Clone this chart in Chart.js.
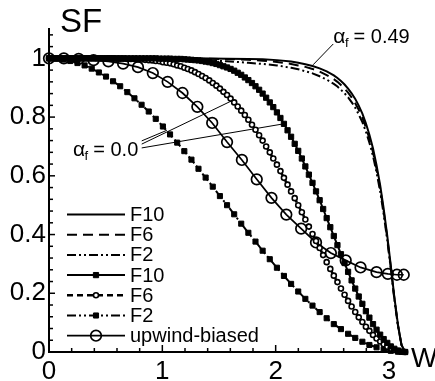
<!DOCTYPE html>
<html><head><meta charset="utf-8">
<script src="https://cdn.jsdelivr.net/npm/chart.js@4/dist/chart.umd.min.js"></script>
<style>html,body{margin:0;padding:0;background:#fff}canvas{display:block}</style>
</head><body>
<canvas id="c" width="435" height="381"></canvas>
<script>
// ---------- DATA ----------
// W grid used by the alpha_f = 0.0 curves F10 and F6
const wFine = [0.000,0.031,0.063,0.094,0.126,0.157,0.188,0.220,0.251,0.283,
0.314,0.346,0.377,0.408,0.440,0.471,0.503,0.534,0.565,0.597,
0.628,0.660,0.691,0.723,0.754,0.785,0.817,0.848,0.880,0.911,
0.942,0.974,1.005,1.037,1.068,1.100,1.131,1.162,1.194,1.225,
1.257,1.288,1.319,1.351,1.382,1.414,1.445,1.477,1.508,1.539,
1.571,1.602,1.634,1.665,1.696,1.728,1.759,1.791,1.822,1.854,
1.885,1.916,1.948,1.979,2.011,2.042,2.073,2.105,2.136,2.168,
2.199,2.231,2.262,2.293,2.325,2.356,2.388,2.419,2.450,2.482,
2.513,2.545,2.576,2.608,2.639,2.670,2.702,2.733,2.765,2.796,
2.827,2.859,2.890,2.922,2.953,2.985,3.016,3.047,3.079,3.110,3.142];
const sfF10a0 = [1.000,1.000,1.000,1.000,1.000,1.000,1.000,1.000,1.000,1.000,
1.000,1.000,1.000,1.000,1.000,1.000,1.000,1.000,1.000,1.000,
1.000,1.000,1.000,1.000,1.000,1.000,1.000,1.000,1.000,1.000,
1.000,0.999,0.999,0.999,0.999,0.998,0.998,0.998,0.997,0.996,
0.995,0.994,0.993,0.991,0.989,0.987,0.984,0.981,0.977,0.973,
0.969,0.964,0.958,0.951,0.944,0.935,0.926,0.916,0.905,0.893,
0.880,0.866,0.850,0.834,0.816,0.797,0.777,0.755,0.733,0.709,
0.685,0.659,0.632,0.604,0.576,0.547,0.517,0.487,0.456,0.425,
0.395,0.364,0.333,0.303,0.273,0.244,0.216,0.189,0.164,0.139,
0.117,0.095,0.076,0.059,0.044,0.031,0.019,0.011,0.005,0.001,0.000];
const sfF6a0 = [1.000,1.000,1.000,1.000,1.000,1.000,1.000,1.000,1.000,1.000,
1.000,1.000,1.000,1.000,1.000,1.000,1.000,1.000,1.000,0.999,
0.999,0.999,0.998,0.998,0.998,0.997,0.996,0.995,0.994,0.993,
0.991,0.990,0.987,0.985,0.983,0.980,0.976,0.973,0.968,0.964,
0.959,0.953,0.947,0.940,0.933,0.925,0.916,0.907,0.897,0.886,
0.875,0.863,0.850,0.836,0.822,0.807,0.791,0.774,0.757,0.738,
0.720,0.700,0.680,0.659,0.638,0.616,0.593,0.570,0.547,0.524,
0.500,0.476,0.451,0.427,0.402,0.378,0.354,0.330,0.306,0.283,
0.260,0.238,0.216,0.195,0.174,0.155,0.136,0.118,0.102,0.086,
0.072,0.058,0.046,0.036,0.026,0.018,0.012,0.007,0.003,0.001,0.000];
// W grid used by the alpha_f = 0.0 curve F2
const wCoarse = [0.000,0.063,0.126,0.188,0.251,0.314,0.377,0.440,0.503,0.565,
0.628,0.691,0.754,0.817,0.880,0.942,1.005,1.068,1.131,1.194,
1.257,1.319,1.382,1.445,1.508,1.571,1.634,1.696,1.759,1.822,
1.885,1.948,2.011,2.073,2.136,2.199,2.262,2.325,2.388,2.450,
2.513,2.576,2.639,2.702,2.765,2.827,2.890,2.953,3.016,3.079,3.142];
const sfF2a0 = [1.000,0.999,0.996,0.991,0.984,0.976,0.965,0.952,0.938,0.922,
0.905,0.885,0.864,0.842,0.819,0.794,0.768,0.741,0.713,0.684,
0.655,0.624,0.594,0.563,0.531,0.500,0.469,0.437,0.406,0.376,
0.345,0.316,0.287,0.259,0.232,0.206,0.181,0.158,0.136,0.115,
0.095,0.078,0.062,0.048,0.035,0.024,0.016,0.009,0.004,0.001,0.000];
// W grid used by the alpha_f = 0.49 curves
const wHigh = [0.000,0.314,0.628,0.942,1.257,1.571,1.759,1.885,2.011,2.136,
2.199,2.262,2.325,2.388,2.450,2.513,2.545,2.576,2.608,2.639,
2.670,2.702,2.733,2.765,2.796,2.827,2.859,2.890,2.922,2.953,
2.985,3.016,3.047,3.079,3.110,3.142];
const sfF10a49 = [1.000,1.000,1.000,1.000,1.000,0.999,0.998,0.997,0.994,0.989,
0.985,0.980,0.974,0.966,0.956,0.942,0.933,0.923,0.911,0.897,
0.881,0.862,0.839,0.812,0.779,0.740,0.693,0.636,0.568,0.488,
0.395,0.293,0.188,0.093,0.025,0.000];
const sfF6a49 = [1.000,1.000,1.000,1.000,0.999,0.998,0.995,0.992,0.988,0.981,
0.976,0.971,0.964,0.955,0.943,0.929,0.920,0.909,0.897,0.883,
0.867,0.847,0.825,0.798,0.765,0.727,0.680,0.624,0.558,0.479,
0.388,0.287,0.184,0.091,0.024,0.000];
const sfF2a49 = [1.000,1.000,0.999,0.997,0.995,0.990,0.985,0.981,0.976,0.968,
0.963,0.956,0.949,0.939,0.928,0.913,0.904,0.893,0.881,0.867,
0.851,0.832,0.809,0.783,0.751,0.713,0.667,0.612,0.547,0.469,
0.380,0.282,0.180,0.089,0.024,0.000];
// upwind-biased
const wUpwind = [0.000,0.131,0.262,0.393,0.524,0.654,0.785,0.916,1.047,1.178,
1.309,1.440,1.571,1.702,1.833,1.963,2.094,2.225,2.356,2.487,
2.618,2.749,2.890,2.990,3.070,3.130];
const sfUpwind = [1.000,1.000,0.998,0.994,0.990,0.982,0.970,0.950,0.920,0.882,
0.835,0.780,0.715,0.654,0.588,0.525,0.468,0.420,0.373,0.337,
0.312,0.288,0.272,0.266,0.263,0.263];

const legendLabels = ['F10','F6','F2','F10','F6','F2','upwind-biased'];
const xTickValues = [0,1,2,3];
const xTickLabels = ['0','1','2','3'];
const yTickValues = [0,0.2,0.4,0.6,0.8,1];
const yTickLabels = ['0','0.2','0.4','0.6','0.8','1'];
const xMinorTicks = [0.2,0.4,0.6,0.8,1.2,1.4,1.6,1.8,2.2,2.4,2.6,2.8];
const yMinorTicks = [0.04,0.08,0.12,0.16,0.24,0.28,0.32,0.36,0.44,0.48,0.52,0.56,0.64,0.68,0.72,0.76,0.84,0.88,0.92,0.96,1.04,1.08];
const axisTitleY = 'SF';
const axisTitleX = 'W';
// annotations (data coordinates)
const label049 = {text:'0.49', x:2.508, y:1.052};
const label00 = {text:'0.0', x:0.211, y:0.668};
const pointer049 = [[2.508,1.049],[2.33,0.978]];
const pointers00 = [
  [[0.818,0.719],[1.04,0.755]],
  [[0.818,0.708],[1.61,0.855]],
  [[0.818,0.695],[2.07,0.777]]
];

// ---------- CHART ----------
const FONT = "'Liberation Sans', Arial, Helvetica, sans-serif";
const pts = (xs, ys) => xs.map((x, i) => ({x, y: ys[i]}));
const DASH = [10,6];
const DASHDOT = [9,3,2,3,2,3];

const base = {showLine:true, fill:false, borderColor:'#000', pointBorderColor:'#000', tension:0, clip:false};
const datasets = [
  Object.assign({}, base, {label:'F10 a049', data:pts(wHigh,sfF10a49), borderWidth:2, pointRadius:0}),
  Object.assign({}, base, {label:'F6 a049', data:pts(wHigh,sfF6a49), borderWidth:2, borderDash:DASH, pointRadius:0}),
  Object.assign({}, base, {label:'F2 a049', data:pts(wHigh,sfF2a49), borderWidth:2, borderDash:DASHDOT, pointRadius:0}),
  Object.assign({}, base, {label:'F10 a0', data:pts(wFine,sfF10a0), borderWidth:2, pointStyle:'rect', pointRadius:3.7, pointBackgroundColor:'#000', pointBorderWidth:1}),
  Object.assign({}, base, {label:'F6 a0', data:pts(wFine,sfF6a0), borderWidth:2.5, borderDash:[6,4], pointStyle:'circle', pointRadius:2.5, pointBackgroundColor:'#fff', pointBorderWidth:1.6}),
  Object.assign({}, base, {label:'F2 a0', data:pts(wCoarse,sfF2a0), borderWidth:2, borderDash:DASHDOT, pointStyle:'rect', pointRadius:3.6, pointBackgroundColor:'#000', pointBorderWidth:1}),
  Object.assign({}, base, {label:'upwind', data:pts(wUpwind,sfUpwind), borderWidth:1.7, pointStyle:'circle', pointRadius:5.3, pointBackgroundColor:'rgba(0,0,0,0)', pointBorderWidth:1.7}),
  Object.assign({}, base, {label:'p049', data:pointer049.map(p=>({x:p[0],y:p[1]})), borderWidth:1, pointRadius:0}),
].concat(pointers00.map((pp,i)=>Object.assign({}, base, {label:'p00_'+i, data:pp.map(p=>({x:p[0],y:p[1]})), borderWidth:1, pointRadius:0})));

function drawMarker(ctx, ds, x, y){
  if (!ds.pointRadius) return;
  const r = ds.pointRadius;
  ctx.save();
  ctx.setLineDash([]);
  ctx.lineWidth = ds.pointBorderWidth;
  ctx.strokeStyle = '#000';
  ctx.fillStyle = ds.pointBackgroundColor;
  ctx.beginPath();
  if (ds.pointStyle === 'rect') { const s = r*Math.SQRT1_2; ctx.rect(x-s, y-s, 2*s, 2*s); }
  else ctx.arc(x, y, r, 0, Math.PI*2);
  ctx.fill(); ctx.stroke();
  ctx.restore();
}

function alphaLabel(ctx, x, y, val){
  ctx.font = '21px ' + FONT;
  ctx.fillText('α', x, y);
  let w = ctx.measureText('α').width;
  ctx.font = '13px ' + FONT;
  ctx.fillText('f', x + w - 0.5, y + 4);
  w += ctx.measureText('f').width;
  ctx.font = '20px ' + FONT;
  ctx.fillText(' = ' + val, x + w - 1, y);
}

const decorPlugin = {
  id:'decor',
  afterDraw(chart){
    const ctx = chart.ctx, xs = chart.scales.x, ys = chart.scales.y, a = chart.chartArea;
    ctx.save();
    ctx.strokeStyle = '#000'; ctx.fillStyle = '#000'; ctx.lineWidth = 1.5; ctx.setLineDash([]);
    // inward ticks
    const seg = (x1,y1,x2,y2)=>{ctx.beginPath();ctx.moveTo(x1,y1);ctx.lineTo(x2,y2);ctx.stroke();};
    xTickValues.forEach(v=>{const p=xs.getPixelForValue(v); seg(p,a.bottom,p,a.bottom-7);});
    xMinorTicks.forEach(v=>{const p=xs.getPixelForValue(v); seg(p,a.bottom,p,a.bottom-4);});
    yTickValues.forEach(v=>{const p=ys.getPixelForValue(v); seg(a.left,p,a.left+6,p);});
    yMinorTicks.forEach(v=>{const p=ys.getPixelForValue(v); seg(a.left,p,a.left+4,p);});
    // axis titles
    ctx.textBaseline = 'alphabetic'; ctx.textAlign = 'left';
    ctx.font = '33px ' + FONT;
    ctx.fillText(axisTitleY, a.left + 11, a.top + 3);
    ctx.font = '28px ' + FONT;
    ctx.fillText(axisTitleX, a.right + 5, a.bottom + 15);
    // alpha labels
    alphaLabel(ctx, xs.getPixelForValue(label049.x), ys.getPixelForValue(label049.y), label049.text);
    alphaLabel(ctx, xs.getPixelForValue(label00.x), ys.getPixelForValue(label00.y), label00.text);
    // legend
    const lx0 = 67, lx1 = 125, ly0 = 214.5, dy = 20.2;
    ctx.font = '20px ' + FONT; ctx.textBaseline = 'middle';
    legendLabels.forEach((lab, i)=>{
      const ds = chart.data.datasets[i];
      const y = ly0 + i*dy;
      ctx.save();
      ctx.lineWidth = ds.borderWidth; ctx.setLineDash(ds.borderDash || []);
      seg(lx0, y, lx1, y);
      ctx.restore();
      drawMarker(ctx, ds, (lx0+lx1)/2, y);
      ctx.fillText(lab, lx1 + 5, y + 1);
    });
    ctx.restore();
  }
};

new Chart(document.getElementById('c'), {
  type:'scatter',
  data:{datasets},
  options:{
    responsive:false, animation:false, devicePixelRatio:1,
    layout:{padding:{top:29,right:29,left:0,bottom:0}},
    plugins:{legend:{display:false}, tooltip:{enabled:false}},
    scales:{
      x:{type:'linear', min:0, max:3.15,
        grid:{display:false, drawTicks:false},
        border:{display:true, color:'#000', width:2},
        afterBuildTicks:s=>{s.ticks = xTickValues.map(v=>({value:v}));},
        afterFit:s=>{s.height = 29;},
        ticks:{color:'#000', font:{size:26, family:FONT}, padding:4, maxRotation:0, autoSkip:false,
          callback:(v,i)=>xTickLabels[i]}},
      y:{type:'linear', min:0, max:1.1,
        grid:{display:false, drawTicks:false},
        border:{display:true, color:'#000', width:2},
        afterBuildTicks:s=>{s.ticks = yTickValues.map(v=>({value:v}));},
        afterFit:s=>{s.width = 49;},
        ticks:{color:'#000', font:{size:26, family:FONT}, padding:3, autoSkip:false,
          callback:(v,i)=>yTickLabels[i]}}
    }
  },
  plugins:[decorPlugin]
});
</script>
</body></html>
